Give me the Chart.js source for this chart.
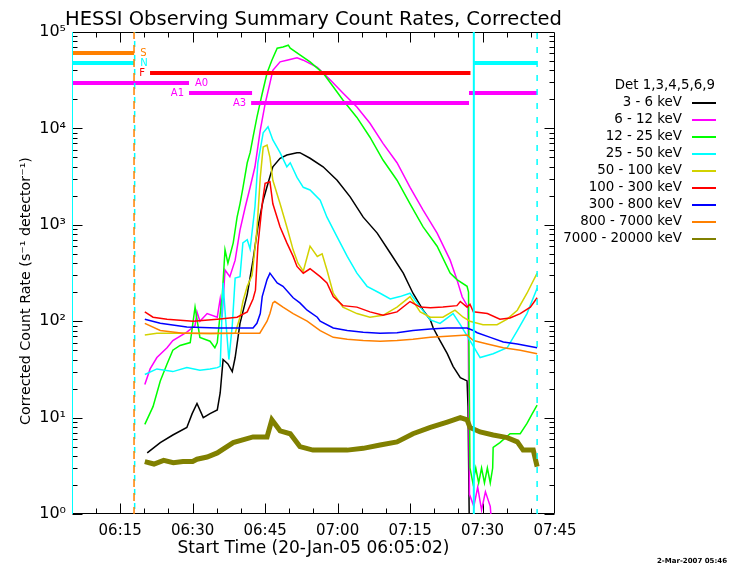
<!DOCTYPE html>
<html><head><meta charset="utf-8">
<script src="https://cdn.jsdelivr.net/npm/chart.js@4"></script>
<style>html,body{margin:0;padding:0;background:#fff;}canvas{display:block;}</style>
</head><body>
<canvas id="c" width="730" height="568"></canvas>
<script>
// ---- time axis: minutes after 06:00 on 20-Jan-05 ----
const timeMin = 5.03;   // 06:05:02
const timeMax = 105;    // 07:45
const timeTicks = [15, 30, 45, 60, 75, 90, 105];
const rateTicks = [1, 10, 100, 1000, 10000, 100000];

const seriesLabels = ['3 - 6 keV','6 - 12 keV','12 - 25 keV','25 - 50 keV','50 - 100 keV','100 - 300 keV','300 - 800 keV','800 - 7000 keV','7000 - 20000 keV'];
const seriesColors = ['#000000','#ff00ff','#00ff00','#00ffff','#d2d200','#ff0000','#0000ff','#ff8000','#808000'];

const rate3to6 = [[20.6,4.3],[23.3,5.5],[25.9,6.6],[28.8,7.9],[29.9,11],[30.9,14],[32.2,10],[33.6,11],[35.1,12],[35.7,18],[36.3,40],[37.3,36],[38.2,30],[38.8,42],[39.8,95],[41.3,190],[42.5,430],[43.5,950],[44.6,1800],[45.6,2700],[46.6,4000],[48.1,4900],[49.5,5300],[51.6,5600],[52.2,5600],[54.3,4900],[57.0,4000],[59.9,2900],[62.6,1950],[65.3,1200],[68.2,820],[70.9,510],[73.6,315],[75.6,195],[77.7,130],[79.2,103],[79.8,85],[81.2,63],[82.7,46],[83.9,34],[85.4,26],[86.8,24],[87.0,13],[87.3,0.5]];
const rate6to12 = [[20.1,22],[21.2,32],[22.6,42],[24.7,53],[25.9,63],[28.8,77],[30.5,90],[30.9,125],[31.5,100],[33.0,120],[35.1,110],[35.7,170],[36.1,110],[36.7,340],[37.7,290],[38.8,430],[39.8,880],[40.9,1540],[41.9,2450],[42.9,4000],[44.0,9600],[45.0,18000],[46.0,29500],[46.6,40000],[48.1,49000],[49.5,51000],[51.6,54000],[52.9,51000],[55.8,43000],[58.5,31700],[61.1,23300],[64.0,16700],[66.7,11300],[69.4,7000],[72.3,4400],[75.0,2450],[77.7,1420],[80.6,820],[83.3,430],[84.7,270],[85.8,178],[87.0,140],[87.3,1.6],[88.2,1.2],[89.0,1.9],[89.8,1.1],[90.6,1.7],[91.6,1.2],[92.2,0.5]];
const rate12to25 = [[20.1,8.5],[21.8,13],[23.3,24],[24.7,36],[25.9,50],[27.4,56],[29.5,60],[30.5,140],[31.5,68],[33.6,62],[34.6,53],[35.1,60],[35.7,120],[36.1,175],[36.7,550],[37.3,400],[38.4,650],[39.2,1200],[39.8,1650],[40.4,2400],[41.3,4400],[41.9,5600],[42.5,8100],[43.3,13000],[44.4,23000],[45.4,37500],[46.4,51000],[47.5,68000],[48.7,70000],[49.8,73000],[50.2,68000],[52.2,58000],[54.3,49000],[57.0,37500],[59.1,27000],[61.1,19700],[64.0,13000],[66.7,8100],[69.4,4700],[72.3,2900],[75.0,1650],[77.7,950],[80.6,600],[83.3,315],[84.7,270],[86.8,230],[87.1,200],[87.4,3],[88.0,2.1],[88.6,3],[89.2,2.1],[89.8,3],[90.4,2.1],[91.0,3],[91.6,2.1],[92.1,3],[92.2,4.9],[93.6,5.5],[95.7,6.8],[97.8,6.8],[99.2,8.7],[100.3,11],[101.3,13.5]];
const rate25to50 = [[20.1,28],[22.6,32],[25.9,30],[28.8,33],[31.5,31],[33.6,32],[35.1,33],[35.7,34],[36.3,250],[36.8,110],[37.5,40],[38.2,90],[38.8,280],[39.8,290],[40.4,650],[41.3,700],[41.9,560],[42.9,1540],[43.5,4400],[44.6,9000],[45.6,10400],[46.6,7600],[48.1,5600],[49.5,4000],[50.2,4400],[51.6,3100],[52.9,2450],[54.3,2300],[56.4,1800],[57.8,1200],[59.9,750],[62.0,470],[64.0,315],[66.1,230],[68.8,195],[70.9,170],[72.9,180],[75.0,195],[77.1,140],[79.2,103],[81.2,95],[83.9,120],[85.4,92],[87.4,63],[89.5,42],[92.2,46],[95.1,53],[97.2,80],[99.2,120],[101.3,220]];
const rate50to100 = [[20.1,72],[22.6,75],[28.8,75],[33.6,74],[38.8,75],[39.8,110],[40.4,160],[41.3,230],[42.3,300],[43.3,880],[44.0,3100],[44.6,6400],[45.4,6700],[46.0,5000],[46.6,2900],[48.1,1650],[49.5,950],[50.8,550],[51.8,400],[52.9,330],[54.3,600],[55.8,470],[56.8,500],[57.8,340],[59.1,195],[61.1,140],[64.0,120],[66.7,110],[69.4,115],[72.3,140],[75.0,180],[77.1,125],[79.2,110],[81.8,110],[84.3,130],[86.0,110],[87.4,100],[90.1,92],[93.0,92],[95.1,105],[97.2,130],[99.2,195],[101.3,315]];
const rate100to300 = [[20.1,125],[21.8,110],[24.7,105],[30.1,100],[35.1,105],[39.2,110],[41.3,125],[42.5,170],[43.0,210],[43.5,600],[44.4,1650],[45.0,2700],[46.0,2800],[46.6,1650],[48.1,950],[49.5,650],[50.8,470],[51.6,370],[52.9,315],[54.3,350],[56.4,290],[57.8,250],[59.1,180],[61.1,145],[64.0,140],[66.7,125],[69.4,115],[72.3,125],[75.0,160],[77.1,140],[79.2,138],[81.8,140],[84.7,145],[85.4,160],[86.8,140],[87.4,150],[88.1,125],[91.0,120],[93.6,105],[95.7,108],[97.8,120],[99.9,140],[101.3,175]];
const rate300to800 = [[20.1,105],[23.3,95],[28.8,87],[35.1,85],[42.5,85],[43.3,95],[44.0,120],[44.4,180],[45.4,270],[46.0,315],[47.5,250],[48.7,230],[50.8,175],[52.2,155],[53.7,130],[55.8,110],[56.4,100],[59.1,85],[62.0,80],[65.3,77],[68.8,75],[72.3,76],[75.6,80],[79.2,83],[82.7,85],[86.8,85],[88.1,80],[88.9,76],[91.6,68],[94.3,61],[97.2,58],[101.3,53]];
const rate800to7000 = [[20.1,95],[23.3,80],[28.0,75],[35.1,75],[43.9,75],[45.4,100],[46.0,120],[46.6,155],[47.0,160],[48.7,140],[50.8,120],[53.7,100],[56.4,80],[59.1,68],[62.0,65],[65.3,63],[68.8,62],[72.3,63],[75.6,65],[79.2,68],[82.7,70],[86.8,72],[88.1,63],[91.0,58],[94.3,53],[97.8,50],[101.3,46]];
const rate7000to20000 = [[20.1,3.5],[22.0,3.3],[24.0,3.6],[26.0,3.4],[28.0,3.5],[30.0,3.5],[30.9,3.7],[33.0,3.9],[35.1,4.3],[38.4,5.5],[42.5,6.3],[45.4,6.3],[46.4,9.5],[48.1,7.3],[50.2,6.8],[52.2,5.0],[54.9,4.6],[58.5,4.6],[62.0,4.6],[65.3,4.8],[68.8,5.2],[72.3,5.6],[75.6,6.8],[79.2,7.9],[82.7,9.0],[85.4,10],[86.8,9.5],[87.4,7.9],[89.5,7.1],[92.2,6.6],[95.1,6.2],[97.2,5.6],[98.4,4.6],[100.5,4.6],[101.3,3.1]];
const seriesData = [rate3to6, rate6to12, rate12to25, rate25to50, rate50to100, rate100to300, rate300to800, rate800to7000, rate7000to20000];

// ---- observing flags: name, level (count-rate position), intervals (minutes after 06:00) ----
const flagNames  = ['S', 'N', 'F', 'A0', 'A1', 'A3'];
const flagLevels = [60500, 47700, 37600, 29600, 23300, 18300];
const flagIntervals = [
  [[5.03, 17.9]],
  [[5.03, 17.9], [88.26, 101.3]],
  [[21.18, 87.5]],
  [[5.03, 29.25]],
  [[29.25, 42.3], [87.2, 101.3]],
  [[42.1, 87.2]]
];
const flagColors = ['#ff8000', '#00ffff', '#ff0000', '#ff00ff', '#ff00ff', '#ff00ff'];
const flagLabelSide = ['right', 'right', 'left', 'right', 'left', 'left'];

// ---- vertical markers (minutes after 06:00) ----
const markerTimes  = [5.03, 17.87, 18.0, 88.2, 101.3];
const markerColors = ['#00ffff', '#ff8000', '#00ffff', '#00ffff', '#00ffff'];
const markerDashed = [false, true, true, false, true];

function fmtTime(v) {
  const h = 6 + Math.floor(v / 60), m = Math.round(v % 60);
  return String(h).padStart(2, '0') + ':' + String(m).padStart(2, '0');
}
const sup = ['\u2070', '\u00b9', '\u00b2', '\u00b3', '\u2074', '\u2075'];

const datasets = [];
// vertical markers and flags on top (Chart.js draws lower order on top)
markerTimes.forEach((t, i) => {
  datasets.push({ data: [[t, 0.5], [t, 2e5]], borderColor: markerColors[i], borderWidth: markerDashed[i] ? 1.5 : 2,
    borderDash: markerDashed[i] ? (markerColors[i] === '#ff8000' ? [8, 6] : [6, 8]) : [],
    borderDashOffset: (markerDashed[i] && markerColors[i] === '#00ffff' && t < 50) ? 8 : 0, order: 1 });
});
flagNames.forEach((n, i) => {
  flagIntervals[i].forEach(iv => {
    datasets.push({ data: [[iv[0], flagLevels[i]], [iv[1], flagLevels[i]]], borderColor: flagColors[i], borderWidth: 4, borderCapStyle: 'butt', order: 2 });
  });
});
seriesData.forEach((d, i) => {
  datasets.push({ label: seriesLabels[i], data: d, borderColor: seriesColors[i],
    borderWidth: i === 8 ? 5 : 1.5, order: 20 - i });
});

function fitFont(ctx, text, target, weight) {
  ctx.font = (weight || '') + ' 20px "DejaVu Sans"';
  const w = ctx.measureText(text).width;
  return 20 * target / w;
}

const idlFrame = {
  id: 'idlFrame',
  beforeDatasetsDraw(chart) {
    const { ctx, chartArea: a, scales: { x, y } } = chart;
    ctx.save();
    ctx.strokeStyle = '#000'; ctx.lineWidth = 1;
    const L = Math.round(a.left) + 0.5, R = Math.round(a.right) - 0.5, T = Math.round(a.top) + 0.5, B = Math.round(a.bottom) - 0.5;
    ctx.beginPath();
    ctx.rect(L, T, R - L, B - T);
    for (let m = 10; m < timeMax; m += 5) {
      const px = Math.round(x.getPixelForValue(m)) + 0.5;
      const len = (m % 15 === 0) ? 10 : 5;
      ctx.moveTo(px, B); ctx.lineTo(px, B - len);
      ctx.moveTo(px, T); ctx.lineTo(px, T + len);
    }
    for (let d = 0; d < 5; d++) {
      for (let k = 1; k <= 9; k++) {
        const py = Math.round(y.getPixelForValue(k * Math.pow(10, d))) + 0.5;
        const len = k === 1 ? 10 : 5;
        ctx.moveTo(L, py); ctx.lineTo(L + len, py);
        ctx.moveTo(R, py); ctx.lineTo(R - len, py);
      }
    }
    ctx.stroke();
    ctx.restore();
  },
  afterDraw(chart) {
    const { ctx, chartArea: a, scales: { x, y } } = chart;
    ctx.save();
    ctx.fillStyle = '#000';
    // main title
    const title = 'HESSI Observing Summary Count Rates, Corrected';
    let fs = fitFont(ctx, title, 497);
    ctx.font = fs + 'px "DejaVu Sans"';
    ctx.textAlign = 'center'; ctx.textBaseline = 'alphabetic';
    ctx.fillText(title, (a.left + a.right) / 2, 25);
    // x title
    const xt = 'Start Time (20-Jan-05 06:05:02)';
    fs = fitFont(ctx, xt, 272);
    ctx.font = fs + 'px "DejaVu Sans"';
    ctx.textBaseline = 'middle';
    ctx.fillText(xt, (a.left + a.right) / 2, 549);
    // y title
    const yt = 'Corrected Count Rate (s\u207b\u00b9 detector\u207b\u00b9)';
    fs = fitFont(ctx, yt, 268);
    ctx.font = fs + 'px "DejaVu Sans"';
    ctx.save();
    ctx.translate(26, 291);
    ctx.rotate(-Math.PI / 2);
    ctx.fillText(yt, 0, 0);
    ctx.restore();
    // legend
    const lf = fitFont(ctx, seriesLabels[8], 119);
    ctx.font = lf + 'px "DejaVu Sans"';
    ctx.textAlign = 'right';
    ctx.fillText('Det 1,3,4,5,6,9', 715, 86);
    seriesLabels.forEach((s, i) => {
      const yy = 103 + i * 17;
      ctx.fillStyle = '#000';
      ctx.fillText(s, 682, yy);
      ctx.strokeStyle = seriesColors[i]; ctx.lineWidth = 2;
      ctx.beginPath(); ctx.moveTo(692, yy); ctx.lineTo(716, yy); ctx.stroke();
    });
    // flag labels
    ctx.font = '10px "DejaVu Sans"';
    ctx.textBaseline = 'middle';
    flagNames.forEach((n, i) => {
      const py = y.getPixelForValue(flagLevels[i]);
      const iv = flagIntervals[i][0];
      ctx.fillStyle = flagColors[i];
      if (flagLabelSide[i] === 'right') {
        ctx.textAlign = 'left';
        ctx.fillText(n, x.getPixelForValue(iv[1]) + 6, py);
      } else {
        ctx.textAlign = 'right';
        ctx.fillText(n, x.getPixelForValue(iv[0]) - 5, py);
      }
    });
    // timestamp
    ctx.fillStyle = '#000';
    ctx.textAlign = 'right';
    ctx.font = 'bold 7px "DejaVu Sans"';
    ctx.fillText('2-Mar-2007 05:46', 727, 561);
    ctx.restore();
  }
};

new Chart(document.getElementById('c').getContext('2d'), {
  type: 'line',
  data: { datasets },
  options: {
    responsive: false,
    animation: false,
    events: [],
    layout: { padding: { top: 32, right: 175, left: 0, bottom: 0 } },
    plugins: { legend: { display: false }, title: { display: false }, tooltip: { enabled: false } },
    elements: { point: { radius: 0 }, line: { tension: 0 } },
    scales: {
      x: {
        type: 'linear', min: timeMin, max: timeMax,
        grid: { display: false, drawTicks: false }, border: { display: false },
        afterBuildTicks: s => { s.ticks = timeTicks.map(v => ({ value: v })); },
        afterFit: s => { s.height = 54; },
        ticks: { callback: v => fmtTime(v), color: '#000', padding: 8, maxRotation: 0, autoSkip: false,
                 font: { family: 'DejaVu Sans', size: 15 } }
      },
      y: {
        type: 'logarithmic', min: 1, max: 1e5,
        grid: { display: false, drawTicks: false }, border: { display: false },
        afterBuildTicks: s => { s.ticks = rateTicks.map(v => ({ value: v })); },
        afterFit: s => { s.width = 72; },
        ticks: { callback: v => '10' + sup[Math.round(Math.log10(v))], color: '#000', padding: 6, autoSkip: false,
                 font: { family: 'DejaVu Sans', size: 16 } }
      }
    }
  },
  plugins: [idlFrame]
});
</script>
</body></html>
